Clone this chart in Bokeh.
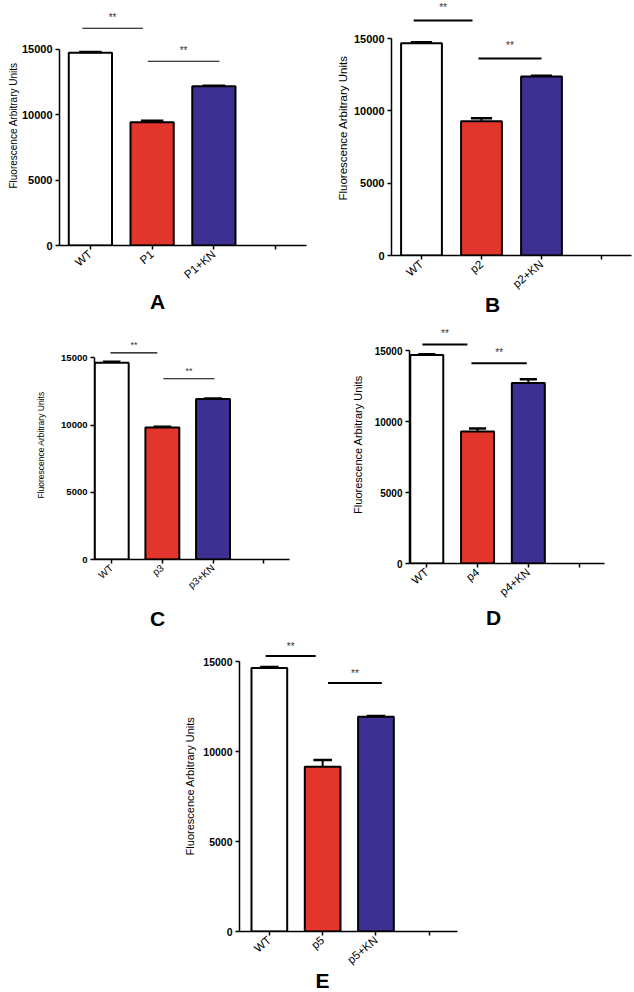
from bokeh.plotting import figure
from bokeh.models import Range1d, FixedTicker, Title, Spacer
from bokeh.layouts import row, column
from bokeh.embed import file_html
from bokeh.resources import INLINE
from bokeh.core.properties import value

FONT = "Liberation Sans"
BAR_COLORS = ["#ffffff", "#e2352b", "#3c3092"]
Y_TICKS = [0, 5000, 10000, 15000]
Y_LABEL = "Fluorescence Arbitrary Units"

# ---- data ----
labels_A = ["WT", "P1", "P1+KN"]
means_A = [14720, 9420, 12170]
errs_A = [70, 110, 40]
sig_x0_A = [0.37, 1.43]
sig_x1_A = [1.35, 2.59]
sig_y_A = [16600, 14080]

labels_B = ["WT", "p2", "p2+KN"]
means_B = [14680, 9280, 12370]
errs_B = [60, 200, 60]
sig_x0_B = [0.37, 1.45]
sig_x1_B = [1.35, 2.50]
sig_y_B = [16240, 13620]

labels_C = ["WT", "p3", "p3+KN"]
means_C = [14640, 9820, 11930]
errs_C = [60, 60, 40]
sig_x0_C = [0.475, 1.52]
sig_x1_C = [1.40, 2.53]
sig_y_C = [15370, 13440]

labels_D = ["WT", "p4", "p4+KN"]
means_D = [14680, 9300, 12720]
errs_D = [60, 200, 250]
sig_x0_D = [0.415, 1.38]
sig_x1_D = [1.30, 2.47]
sig_y_D = [15420, 14110]

labels_E = ["WT", "p5", "p5+KN"]
means_E = [14640, 9150, 11930]
errs_E = [60, 380, 40]
sig_x0_E = [0.43, 1.60]
sig_x1_E = [1.37, 2.61]
sig_y_E = [15300, 13800]


def panel(letter, labels, means, errs, sx0, sx1, sy, *, width, height,
          mb_left, mb_right, mb_top, mb_bottom, x_start, x_end, y_end,
          bar_w, tick_fs, cat_fs, ylab_fs, ylab_standoff, star_dy,
          letter_offset, letter_standoff, sig_lw, star_fs):
    p = figure(width=width, height=height, output_backend="svg",
               toolbar_location=None, frame_align=False,
               x_range=Range1d(x_start, x_end), y_range=Range1d(0, y_end),
               min_border_left=mb_left, min_border_right=mb_right,
               min_border_top=mb_top, min_border_bottom=mb_bottom)
    p.outline_line_color = None
    p.grid.visible = False
    p.background_fill_color = "white"

    xs = [i + 0.5 for i in range(len(labels))]
    p.vbar(x=xs, top=means, width=bar_w, fill_color=BAR_COLORS,
           line_color="black", line_width=2)
    tops = [m + e for m, e in zip(means, errs)]
    p.segment(x0=xs, y0=means, x1=xs, y1=tops, line_color="black", line_width=2)
    cap = bar_w * 0.26
    p.segment(x0=[x - cap for x in xs], y0=tops, x1=[x + cap for x in xs],
              y1=tops, line_color="black", line_width=2.5)

    p.segment(x0=sx0, y0=sy, x1=sx1, y1=sy, line_color="black", line_width=sig_lw)
    p.text(x=[(a + b) / 2 for a, b in zip(sx0, sx1)], y=sy,
           text=["**"] * len(sy), y_offset=-star_dy,
           text_align="center", text_baseline="middle",
           text_font=value(FONT), text_font_size=star_fs, text_color="#333333")

    ticks_x = [i + 0.5 for i in range(len(labels) + 1)]
    p.xaxis.ticker = FixedTicker(ticks=ticks_x)
    overrides = {t: lab for t, lab in zip(ticks_x, labels)}
    overrides[ticks_x[-1]] = ""
    p.xaxis.major_label_overrides = overrides
    p.xaxis.major_label_orientation = 0.7
    p.xaxis.major_label_text_font_size = cat_fs

    p.yaxis.ticker = FixedTicker(ticks=Y_TICKS)
    p.yaxis.bounds = (0, 15000)
    p.yaxis.major_label_text_font_style = "bold"
    p.yaxis.major_label_text_font_size = tick_fs
    p.yaxis.axis_label = Y_LABEL
    p.yaxis.axis_label_text_font_style = "normal"
    p.yaxis.axis_label_text_font_size = ylab_fs
    p.yaxis.axis_label_standoff = ylab_standoff

    for ax in p.axis:
        ax.minor_tick_line_color = None
        ax.major_tick_out = 4
        ax.major_tick_in = 0
        ax.major_label_standoff = 3
        ax.axis_line_width = 1.5
        ax.major_tick_line_width = 1.5
        ax.axis_line_color = "black"
        ax.major_tick_line_color = "black"
        ax.major_label_text_color = "black"
        ax.axis_label_text_color = "black"
        ax.major_label_text_font = FONT
        ax.axis_label_text_font = FONT

    p.add_layout(Title(text=letter, align="left", offset=letter_offset,
                       standoff=letter_standoff, text_font=FONT,
                       text_font_size="21px", text_font_style="bold",
                       text_color="black"), "below")
    return p


pA = panel("A", labels_A, means_A, errs_A, sig_x0_A, sig_x1_A, sig_y_A,
           width=317, height=320, mb_left=59, mb_right=11, mb_top=5, mb_bottom=75,
           x_start=0, x_end=4, y_end=18339, bar_w=0.7, tick_fs="11px",
           cat_fs="11.5px", ylab_fs="10px", ylab_standoff=0, star_dy=11,
           letter_offset=90.4, letter_standoff=-2, sig_lw=1.2, star_fs="10px")

pB = panel("B", labels_B, means_B, errs_B, sig_x0_B, sig_x1_B, sig_y_B,
           width=317, height=320, mb_left=74, mb_right=3, mb_top=0, mb_bottom=65,
           x_start=0, x_end=4, y_end=17627, bar_w=0.68, tick_fs="11px",
           cat_fs="11.5px", ylab_fs="11.5px", ylab_standoff=2, star_dy=13,
           letter_offset=93.4, letter_standoff=-13, sig_lw=2, star_fs="10px")

pC = panel("C", labels_C, means_C, errs_C, sig_x0_C, sig_x1_C, sig_y_C,
           width=317, height=320, mb_left=94, mb_right=28, mb_top=10, mb_bottom=81,
           x_start=0.16, x_end=4.01, y_end=17030, bar_w=0.67, tick_fs="9.5px",
           cat_fs="10px", ylab_fs="8.5px", ylab_standoff=12, star_dy=8,
           letter_offset=55.4, letter_standoff=14, sig_lw=1.2, star_fs="9px")

pD = panel("D", labels_D, means_D, errs_D, sig_x0_D, sig_x1_D, sig_y_D,
           width=317, height=320, mb_left=92, mb_right=30, mb_top=5, mb_bottom=77,
           x_start=0.16, x_end=4.0, y_end=16761, bar_w=0.65, tick_fs="10px",
           cat_fs="11.5px", ylab_fs="11px", ylab_standoff=8, star_dy=11,
           letter_offset=76.4, letter_standoff=-4, sig_lw=2, star_fs="10px")

pE = panel("E", labels_E, means_E, errs_E, sig_x0_E, sig_x1_E, sig_y_E,
           width=310, height=352, mb_left=79, mb_right=13, mb_top=0, mb_bottom=61,
           x_start=-0.06, x_end=4.03, y_end=16167, bar_w=0.67, tick_fs="10.5px",
           cat_fs="11.5px", ylab_fs="11px", ylab_standoff=4, star_dy=10,
           letter_offset=76, letter_standoff=-14, sig_lw=2, star_fs="10px")

layout = column(row(pA, pB), row(pC, pD),
                row(Spacer(width=160, height=352), pE))

open("out.html", "w").write(file_html(layout, INLINE))
